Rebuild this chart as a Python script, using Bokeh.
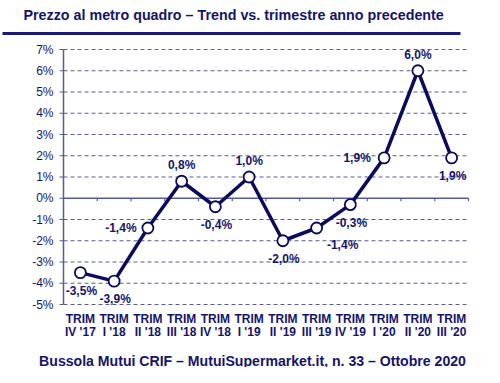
from bokeh.plotting import figure
from bokeh.models import ColumnDataSource, Range1d
from bokeh.core.properties import value
from bokeh.embed import file_html
from bokeh.resources import INLINE

# ---- data ----
quarters = ["IV '17", "I '18", "II '18", "III '18", "IV '18", "I '19",
            "II '19", "III '19", "IV '19", "I '20", "II '20", "III '20"]
values = [-3.5, -3.9, -1.4, 0.8, -0.4, 1.0, -2.0, -1.4, -0.3, 1.9, 6.0, 1.9]
label_pos = ["below", "below", "left", "above", "below", "above",
             "below", "belowright", "below", "left", "above", "below"]
y_ticks = list(range(-5, 8))
title_text = "Prezzo al metro quadro – Trend vs. trimestre anno precedente"
footer_text = "Bussola Mutui CRIF – MutuiSupermarket.it, n. 33 – Ottobre 2020"

# ---- style / layout ----
NAVY = "#14146a"
LINE = "#0b0b5e"
GRID = "#5a5a98"
RULE = "#1a1a78"
FONT = "Liberation Sans"
W, H = 484, 367
FL, FR, FT, FB = 63, 468, 49, 304          # plot area in pixels
XMIN, XMAX = 0, len(values)
YMIN, YMAX = y_ticks[0], y_ticks[-1]
sx = (FR - FL) / (XMAX - XMIN)
sy = (FB - FT) / (YMAX - YMIN)

p = figure(width=W, height=H, output_backend="svg", toolbar_location=None,
           x_range=Range1d(XMIN - FL / sx, XMAX + (W - FR) / sx),
           y_range=Range1d(YMIN - (H - FB) / sy, YMAX + FT / sy),
           x_axis_location=None, y_axis_location=None, min_border=0)
p.outline_line_color = None
p.grid.visible = False
p.extra_x_ranges = {"px": Range1d(0, W)}
p.extra_y_ranges = {"px": Range1d(H, 0)}

xs = [i + 0.5 for i in range(len(values))]
texts = [("%.1f%%" % v).replace(".", ",") for v in values]
offs = {"below": (1, 18), "above": (0, -16), "left": (-27, 0),
        "belowright": (26, 17)}
src = ColumnDataSource(dict(x=xs, y=values, t=texts,
                            xo=[offs[q][0] for q in label_pos],
                            yo=[offs[q][1] for q in label_pos]))

# horizontal grid (dashed), zero line (solid)
gy = [t for t in y_ticks if t != 0]
p.segment(x0=[XMIN] * len(gy), y0=gy, x1=[XMAX] * len(gy), y1=gy,
          line_color=GRID, line_width=1.2, line_dash="4 3")
p.segment(x0=[XMIN], y0=[0], x1=[XMAX], y1=[0], line_color=GRID, line_width=1.5)
bx = list(range(XMIN + 1, XMAX + 1))
p.segment(x0=bx, y0=[0] * len(bx), x1=bx, y1=[-3 / sy] * len(bx),
          line_color=GRID, line_width=1.2)

# y axis: line, ticks, labels
p.segment(x0=[XMIN], y0=[YMIN], x1=[XMIN], y1=[YMAX], line_color=GRID,
          line_width=1.5)
p.segment(x0=[FL - 4] * len(y_ticks), y0=y_ticks, x1=[FL] * len(y_ticks),
          y1=y_ticks, line_color=GRID, line_width=1.2, x_range_name="px")
p.text(x=[FL - 10] * len(y_ticks), y=y_ticks,
       text=["%d%%" % t for t in y_ticks], x_range_name="px",
       text_align="right", text_baseline="middle", text_font=value(FONT),
       text_font_size="12px", text_color=NAVY)

# x category labels
p.text(x=xs, y=[318] * len(xs), text=["TRIM"] * len(xs), y_range_name="px",
       text_align="center", text_baseline="middle", text_font=value(FONT),
       text_font_size="12px", text_font_style="bold", text_color=NAVY)
p.text(x=xs, y=[331] * len(xs), text=quarters, y_range_name="px",
       text_align="center", text_baseline="middle", text_font=value(FONT),
       text_font_size="12px", text_font_style="bold", text_color=NAVY)

# series
p.line("x", "y", source=src, line_color=LINE, line_width=3.5)
p.scatter("x", "y", source=src, size=11, fill_color="white",
          line_color=LINE, line_width=1.8)
p.text("x", "y", text="t", source=src, x_offset="xo", y_offset="yo",
       text_align="center", text_baseline="middle",
       text_font=value(FONT), text_font_size="12px", text_font_style="bold",
       text_color=NAVY)

# title, rule, footer
p.text(x=[23], y=[14], text=[title_text], x_range_name="px", y_range_name="px",
       text_align="left", text_baseline="middle", text_font=value(FONT),
       text_font_size="14.3px", text_font_style="bold", text_color=NAVY)
p.segment(x0=[2], y0=[33], x1=[460], y1=[33], x_range_name="px",
          y_range_name="px", line_color=RULE, line_width=3)
p.text(x=[252], y=[360], text=[footer_text], x_range_name="px",
       y_range_name="px", text_align="center", text_baseline="middle",
       text_font=value(FONT), text_font_size="14.1px", text_font_style="bold",
       text_color=NAVY)

open("out.html", "w").write(file_html(p, INLINE))
